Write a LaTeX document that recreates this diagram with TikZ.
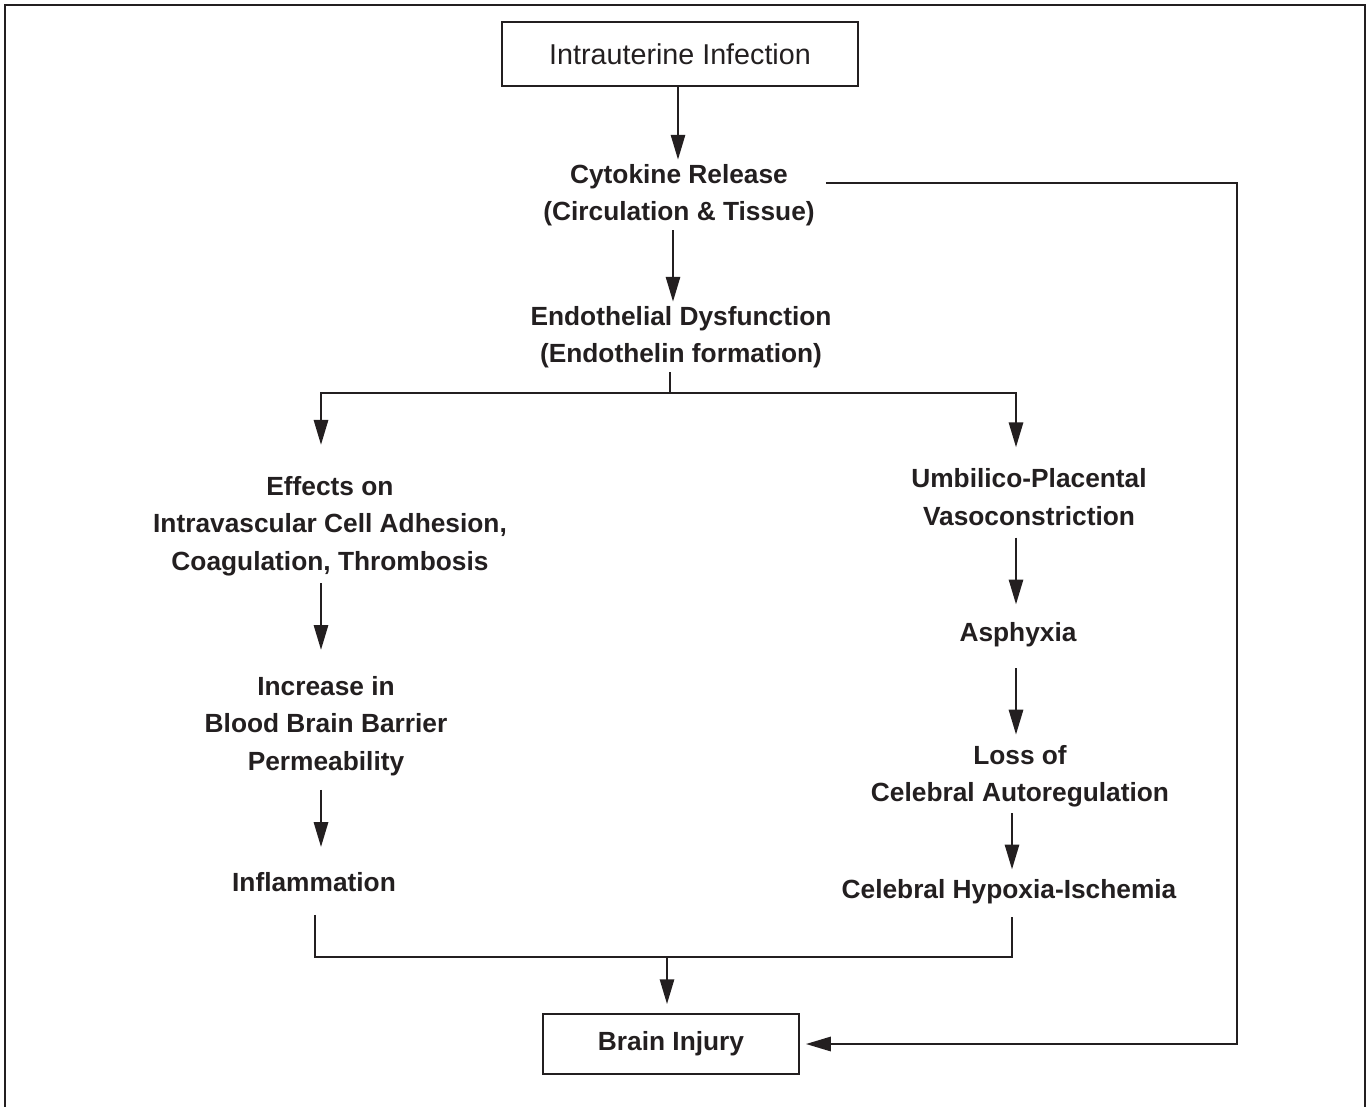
\documentclass[tikz,border=0pt]{standalone}
\usepackage{fontspec}
\setmainfont{Liberation Sans}
\usetikzlibrary{arrows.meta,calc}
\definecolor{ink}{HTML}{231F20}
\begin{document}
\begin{tikzpicture}[x=1pt,y=-1pt,
  lbl/.style={font=\fontsize{26.3}{37.5}\selectfont\bfseries, align=center, inner sep=4pt, text=ink},
  ln/.style={draw=ink, line width=2.9pt},
  arr/.style={ln, -{Triangle[length=25pt,width=14pt]}},
  boxa/.style={draw=ink, line width=2.6pt, minimum width=356pt, minimum height=64pt, inner sep=0pt,
    font=\fontsize{28.7}{34}\selectfont, text=ink},
  boxb/.style={draw=ink, line width=1.5pt, minimum width=256pt, minimum height=60pt, inner sep=0pt,
    font=\fontsize{26.3}{32}\selectfont\bfseries, text=ink}]
\useasboundingbox (0,0) rectangle (1370,1106);
\draw[draw=ink, line width=2.6pt] (5,1110) -- (5,5) -- (1365,5) -- (1365,1110);

\node[boxa] (top) at (680,54) {Intrauterine Infection};
\node[lbl] (cyto) at (679,195) {Cytokine Release\\(Circulation \& Tissue)};
\node[lbl] (endo) at (681,337) {Endothelial Dysfunction\\(Endothelin formation)};
\node[lbl] (eff) at (330,526) {Effects on\\Intravascular Cell Adhesion,\\Coagulation, Thrombosis};
\node[lbl] (incr) at (326,726) {Increase in\\Blood Brain Barrier\\Permeability};
\node[lbl] (infl) at (314,882) {Inflammation};
\node[lbl] (umb) at (1029,497) {Umbilico-Placental\\Vasoconstriction};
\node[lbl] (asph) at (1018,635) {Asphyxia};
\node[lbl] (loss) at (1020,776) {Loss of\\Celebral Autoregulation};
\node[lbl] (hyp) at (1009,892) {Celebral Hypoxia-Ischemia};
\node[boxb] (brain) at (671,1044) {Brain Injury};

\coordinate (br) at (670,393);
\coordinate (jm) at (667,957);
\coordinate (rc) at (1237,183);

% top chain
\draw[arr] ([xshift=-2pt]top.south) -- ([xshift=-2pt]top.south |- cyto.north);
\draw[arr] ([xshift=-6pt]cyto.south) -- ([xshift=-6pt]cyto.south |- endo.north);

% branch
\draw[ln] ([xshift=-11pt]endo.south) -- (br);
\draw[arr, shorten >=27pt] (br) -| ([xshift=-9pt]eff.north);
\draw[arr, shorten >=17pt] (br) -| ([xshift=-13pt]umb.north);

% left chain
\draw[arr, shorten <=3pt, shorten >=22pt] ([xshift=-9pt]eff.south) -- ([xshift=-9pt]eff.south |- incr.north);
\draw[arr, shorten <=10pt, shorten >=21pt] ([xshift=-5pt]incr.south) -- ([xshift=-5pt]incr.south |- infl.north);

% right chain
\draw[arr, shorten <=8pt, shorten >=14pt] ([xshift=-13pt]umb.south) -- ([xshift=-13pt]umb.south |- asph.north);
\draw[arr, shorten <=17pt, shorten >=6pt] ([xshift=-2pt]asph.south) -- ([xshift=-2pt]asph.south |- loss.north);
\draw[arr, shorten <=2pt, shorten >=6pt] ([xshift=-8pt]loss.south) -- ([xshift=-8pt]loss.south |- hyp.north);

% merge
\draw[ln] ([xshift=1pt,yshift=-19pt]infl.south) |- (jm) -| ([xshift=3pt,yshift=-9pt]hyp.south);
\draw[arr, shorten >=9pt] (jm) -- (jm |- brain.north);

% side path
\draw[arr, shorten <=7pt, shorten >=6pt] ([yshift=12pt]cyto.east) -- (rc) |- (brain.east);
\end{tikzpicture}
\end{document}
